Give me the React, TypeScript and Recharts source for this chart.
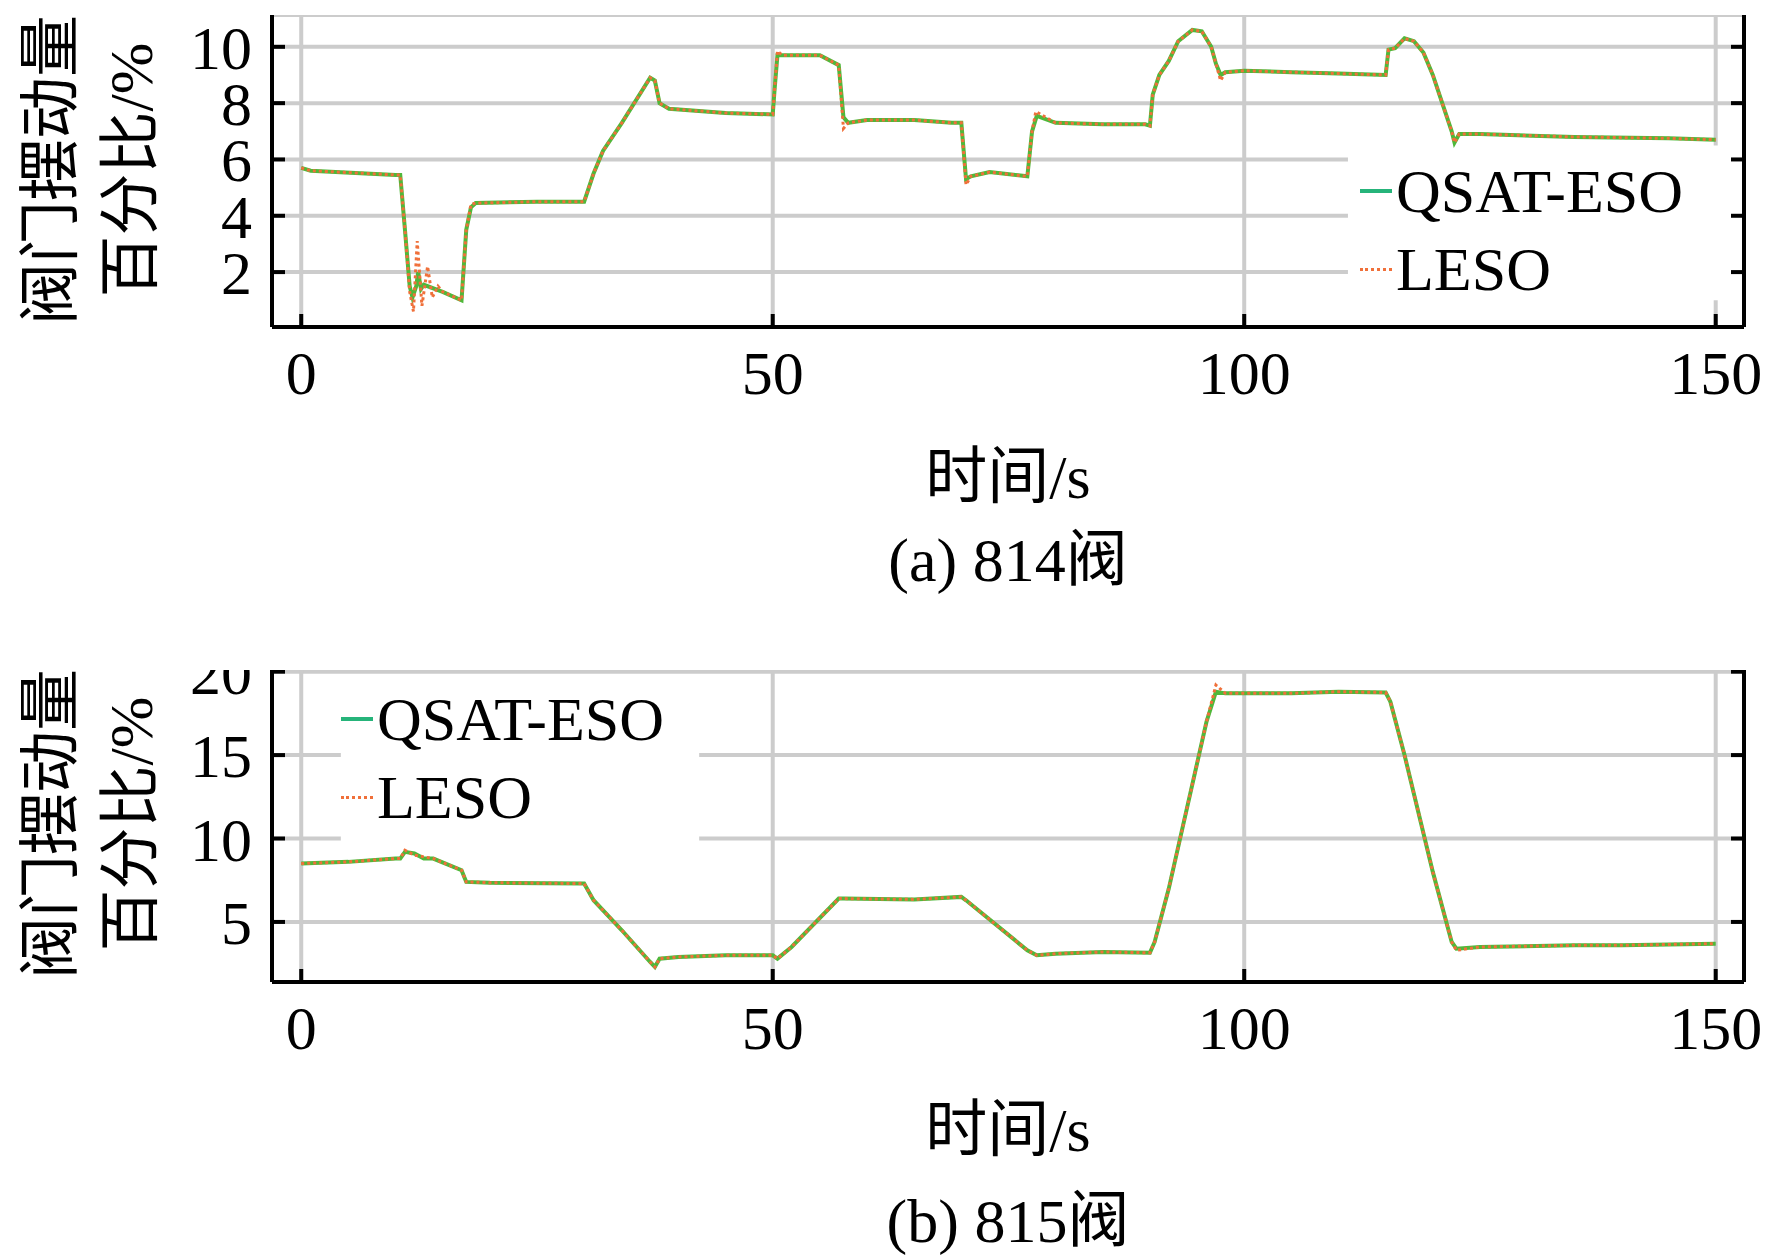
import React from 'react';
import { LineChart, Line, XAxis, YAxis, CartesianGrid, ReferenceArea } from 'recharts';

const FONT = "'Liberation Serif', 'Times New Roman', 'Noto Sans CJK SC', serif";
const GREEN = '#4fb83a';
const LEGEND_GREEN = '#26b47a';
const ORANGE = '#f0703a';

// 814 valve (panel a)
const aQsatT = [0, 1, 10, 10.5, 11, 11.5, 11.8, 12.2, 12.4, 12.7, 13, 15, 17, 17.5, 18, 18.5, 25, 30, 31, 32, 34, 37, 37.5, 38, 39, 45, 50, 50.2, 50.5, 55, 57, 57.5, 58, 60, 65, 69, 70, 70.5, 71, 73, 77, 77.5, 78, 80, 85, 89.5, 90, 90.3, 91, 92, 93, 94.5, 95.5, 96.5, 97, 97.5, 98, 100, 105, 110, 115, 115.3, 116, 117, 118, 119, 120, 121, 122, 122.3, 122.8, 125, 135, 145, 150];
const aQsatV = [5.7, 5.6, 5.45, 5.45, 3.5, 1.5, 1.1, 1.5, 2.0, 1.4, 1.55, 1.3, 1.0, 3.5, 4.3, 4.45, 4.5, 4.5, 5.5, 6.3, 7.3, 8.9, 8.8, 8.0, 7.8, 7.65, 7.6, 8.5, 9.7, 9.7, 9.35, 7.5, 7.3, 7.4, 7.4, 7.3, 7.3, 5.3, 5.4, 5.55, 5.4, 7.0, 7.55, 7.3, 7.25, 7.25, 7.2, 8.3, 9.0, 9.5, 10.2, 10.6, 10.55, 10.0, 9.4, 9.0, 9.1, 9.15, 9.1, 9.05, 9.0, 9.9, 9.95, 10.3, 10.2, 9.8, 9.0, 8.0, 7.0, 6.6, 6.9, 6.9, 6.8, 6.75, 6.7];
const aLesoT = [0, 1, 10, 10.5, 11, 11.5, 11.9, 12.3, 12.8, 13.4, 13.9, 14.5, 15, 17, 17.5, 18, 18.5, 25, 30, 31, 32, 34, 37, 37.5, 38, 39, 45, 50, 50.2, 50.5, 51, 55, 57, 57.5, 58, 60, 65, 69, 70, 70.5, 71, 73, 77, 77.5, 77.9, 80, 85, 89.5, 90, 90.3, 91, 92, 93, 94.5, 95.5, 96.5, 97, 97.5, 98, 100, 105, 110, 115, 115.3, 116, 117, 118, 119, 120, 121, 122, 122.3, 122.8, 125, 135, 145, 150];
const aLesoV = [5.7, 5.6, 5.45, 5.45, 3.5, 1.3, 0.6, 3.1, 0.8, 2.2, 1.1, 1.5, 1.3, 1.0, 3.5, 4.4, 4.45, 4.5, 4.5, 5.5, 6.3, 7.3, 8.9, 8.8, 8.0, 7.8, 7.65, 7.6, 8.5, 9.85, 9.7, 9.7, 9.35, 7.1, 7.3, 7.4, 7.4, 7.3, 7.3, 5.1, 5.4, 5.55, 5.4, 7.0, 7.7, 7.3, 7.25, 7.25, 7.2, 8.3, 9.0, 9.5, 10.2, 10.6, 10.55, 10.0, 9.4, 8.8, 9.1, 9.15, 9.1, 9.05, 9.0, 9.9, 9.95, 10.3, 10.2, 9.8, 9.0, 8.0, 7.0, 6.6, 6.9, 6.9, 6.8, 6.75, 6.7];

// 815 valve (panel b)
const bQsatT = [0, 5, 10, 10.5, 11, 12, 13, 14, 17, 17.5, 20, 30, 31, 34, 37, 37.5, 38, 40, 45, 50, 50.5, 52, 57, 57.5, 65, 70, 70.5, 77, 78, 80, 85, 90, 90.5, 92, 94, 96, 97, 98, 105, 110, 115, 115.5, 117, 120, 122, 122.5, 125, 135, 140, 150];
const bQsatV = [8.5, 8.6, 8.8, 8.8, 9.2, 9.1, 8.8, 8.8, 8.1, 7.4, 7.35, 7.3, 6.3, 4.5, 2.6, 2.3, 2.8, 2.9, 3.0, 3.0, 2.8, 3.5, 6.4, 6.4, 6.35, 6.5, 6.3, 3.3, 3.0, 3.1, 3.2, 3.15, 3.8, 7, 12, 17, 18.8, 18.7, 18.7, 18.8, 18.75, 18.2, 15, 8, 3.8, 3.4, 3.5, 3.6, 3.6, 3.7];
const bLesoT = [0, 5, 10, 10.5, 11, 12, 13, 14, 17, 17.5, 20, 30, 31, 34, 37, 37.5, 38, 40, 45, 50, 50.5, 52, 57, 57.5, 65, 70, 70.5, 77, 78, 80, 85, 90, 90.5, 92, 94, 96, 97, 98, 105, 110, 115, 115.5, 117, 120, 122, 122.5, 125, 135, 140, 150];
const bLesoV = [8.5, 8.6, 8.8, 8.8, 9.3, 9.0, 8.9, 8.8, 8.1, 7.4, 7.35, 7.3, 6.3, 4.5, 2.6, 2.3, 2.8, 2.9, 3.0, 3.0, 2.8, 3.5, 6.4, 6.4, 6.35, 6.5, 6.3, 3.3, 3.0, 3.1, 3.2, 3.15, 3.8, 7, 12, 17, 19.2, 18.7, 18.7, 18.8, 18.75, 18.2, 15, 8, 3.8, 3.3, 3.5, 3.6, 3.6, 3.7];

const xTicks = [0, 50, 100, 150];
const aYTicks = [2, 4, 6, 8, 10];
const bYTicks = [5, 10, 15, 20];
const legendNames = ['QSAT-ESO', 'LESO'];

const zip = (t: number[], v: number[]) => t.map((x, i) => ({ t: x, v: v[i] }));

const axisLine = { stroke: '#000', strokeWidth: 4 };
const tickLine = { stroke: '#000', strokeWidth: 4 };
const tickFont = { fontSize: 62, fill: '#000', fontFamily: FONT };
const noLabel = () => <g />;

interface PanelProps {
  top: number;
  qsat: { t: number; v: number }[];
  leso: { t: number; v: number }[];
  yDomain: [number, number];
  yTicks: number[];
  box: { x1: number; x2: number; y1: number; y2: number };
}

const Panel: React.FC<PanelProps> = ({ top, qsat, leso, yDomain, yTicks, box }) => (
  <div style={{ position: 'absolute', left: 0, top }}>
    <LineChart width={1772} height={405} margin={{ top: 0, right: 0, bottom: 0, left: 0 }}>
      <CartesianGrid xAxisId="b" yAxisId="l" stroke="#cccccc" strokeWidth={4} />
      <XAxis xAxisId="b" type="number" dataKey="t" domain={[-3.1, 153]} ticks={xTicks} interval={0} allowDataOverflow
        height={93} axisLine={axisLine} tickLine={tickLine} tickSize={-13} tickMargin={36} tick={tickFont} />
      <XAxis xAxisId="top" orientation="top" type="number" dataKey="t" domain={[-3.1, 153]} ticks={xTicks} interval={0} allowDataOverflow
        height={0} axisLine={axisLine} tickLine={tickLine} tickSize={-13} tick={noLabel} />
      <YAxis yAxisId="l" type="number" domain={yDomain} ticks={yTicks} interval={0} allowDataOverflow
        width={272} axisLine={axisLine} tickLine={tickLine} tickSize={-13} tickMargin={33} tick={tickFont} />
      <YAxis yAxisId="r" orientation="right" type="number" domain={yDomain} ticks={yTicks} interval={0} allowDataOverflow
        width={28} axisLine={axisLine} tickLine={tickLine} tickSize={-13} tick={noLabel} />
      <ReferenceArea xAxisId="b" yAxisId="l" x1={box.x1} x2={box.x2} y1={box.y1} y2={box.y2} fill="#fff" fillOpacity={1} stroke="none" />
      <Line xAxisId="b" yAxisId="l" data={qsat} dataKey="v" type="linear" stroke={GREEN} strokeWidth={4} dot={false} isAnimationActive={false} />
      <Line xAxisId="b" yAxisId="l" data={leso} dataKey="v" type="linear" stroke={ORANGE} strokeWidth={3} strokeDasharray="3 3" dot={false} isAnimationActive={false} />
    </LineChart>
  </div>
);

const Legend: React.FC<{ left: number; top: number }> = ({ left, top }) => (
  <div style={{ position: 'absolute', left, top, fontFamily: FONT, fontSize: 62, lineHeight: '78px' }}>
    {legendNames.map((n, i) => (
      <div key={n} style={{ display: 'flex', alignItems: 'center' }}>
        <span style={{ width: 32, height: 0, borderTop: i === 0 ? `4px solid ${LEGEND_GREEN}` : `3px dotted ${ORANGE}`, marginRight: 4 }} />
        <span>{n}</span>
      </div>
    ))}
  </div>
);

const YLabel: React.FC<{ cy: number }> = ({ cy }) => (
  <>
    {['阀门摆动量', '百分比/%'].map((s, i) => (
      <div key={s} style={{ position: 'absolute', left: i === 0 ? 51 : 131, top: cy, transform: 'translate(-50%,-50%) rotate(-90deg)',
        fontFamily: FONT, fontSize: 62, whiteSpace: 'nowrap', lineHeight: 1 }}>{s}</div>
    ))}
  </>
);

const Text: React.FC<{ cy: number; children: React.ReactNode }> = ({ cy, children }) => (
  <div style={{ position: 'absolute', left: 1008, top: cy, transform: 'translate(-50%,-50%)', fontFamily: FONT, fontSize: 62, whiteSpace: 'nowrap', lineHeight: 1 }}>{children}</div>
);

export default function App() {
  return (
    <div style={{ position: 'absolute', left: 0, top: 0, width: 1772, height: 1259, background: '#fff', overflow: 'hidden' }}>
      <Panel top={15} qsat={zip(aQsatT, aQsatV)} leso={zip(aLesoT, aLesoV)} yDomain={[0.05, 11.13]} yTicks={aYTicks}
        box={{ x1: 111, x2: 153, y1: 1.0, y2: 6.5 }} />
      <Panel top={670} qsat={zip(bQsatT, bQsatV)} leso={zip(bLesoT, bLesoV)} yDomain={[1.4, 20.1]} yTicks={bYTicks}
        box={{ x1: 4.2, x2: 42.2, y1: 9.7, y2: 19 }} />
      <Legend left={1360} top={152} />
      <Legend left={341} top={680} />
      <YLabel cy={170} />
      <YLabel cy={824} />
      <Text cy={477}>时间/s</Text>
      <Text cy={560}>(a) 814阀</Text>
      <Text cy={1130}>时间/s</Text>
      <Text cy={1221}>(b) 815阀</Text>
    </div>
  );
}
